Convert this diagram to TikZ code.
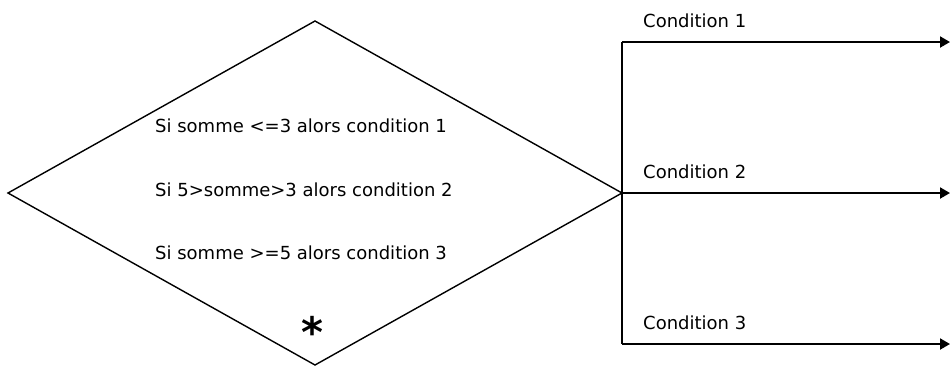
\documentclass[tikz,border=0pt]{standalone}
\usepackage{fontspec}
\setmainfont{DejaVu Sans}
\usetikzlibrary{arrows.meta}
\begin{document}
\begin{tikzpicture}[x=1pt,y=-1pt,
  lbl/.style={inner sep=0pt, anchor=west, font=\fontsize{18}{20}\selectfont},
  conn/.style={line width=2pt},
  arr/.style={conn,-{Triangle[length=10pt,width=11pt]}}]
\useasboundingbox (0,0) rectangle (950,365);
\coordinate (L) at (8,193);
\coordinate (T) at (315,21);
\coordinate (R) at (622,193);
\coordinate (B) at (315,365);
\draw[line width=1.4pt] (L) -- (T) -- (R) -- (B) -- cycle;
\node[lbl] (t1) at (155,126) {Si somme <=3 alors condition 1};
\node[lbl] (t2) at (155,190) {Si 5>somme>3 alors condition 2};
\node[lbl] (t3) at (155,253) {Si somme >=5 alors condition 3};
\node[inner sep=0pt, font=\fontsize{42}{42}\selectfont\bfseries] (ast) at (312,332) {*};
\coordinate (v1) at (622,42);
\coordinate (v3) at (622,344);
\coordinate (e1) at (950,42);
\coordinate (e2) at (950,193);
\coordinate (e3) at (950,344);
\draw[conn] (v1) -- (v3);
\draw[arr] (v1) -- (e1);
\draw[arr] (R) -- (e2);
\draw[arr] (v3) -- (e3);
\node[lbl] (c1) at (643,21) {Condition 1};
\node[lbl] (c2) at (643,172) {Condition 2};
\node[lbl] (c3) at (643,323) {Condition 3};
\end{tikzpicture}
\end{document}
